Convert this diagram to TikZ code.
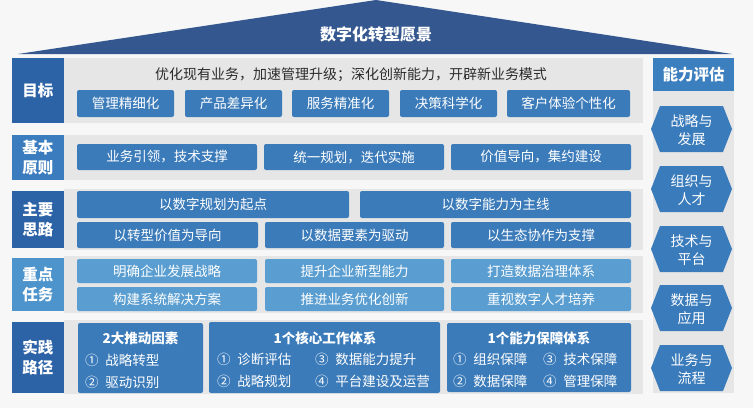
\documentclass[tikz,border=0pt]{standalone}
\usepackage{fontspec}
\setmainfont{Noto Sans CJK SC}
\definecolor{bgc}{HTML}{F7F7F7}
\definecolor{panelc}{HTML}{E6E6E6}
\definecolor{roofc}{HTML}{34578F}
\definecolor{labdark}{HTML}{2C62A6}
\definecolor{labmid}{HTML}{3A7CBE}
\definecolor{lablight}{HTML}{4D94CC}
\definecolor{boxc}{HTML}{3B7BBA}
\definecolor{boxlight}{HTML}{5A9ED1}
\definecolor{headc}{HTML}{3C7FBF}
\definecolor{hexc}{HTML}{3A7BBB}
\definecolor{txtdark}{HTML}{2B2B2B}
\newcommand{\Bx}[7]{\node[#6, minimum width={#4-#2}, minimum height={#5-#3}] (#1) at ({(#2+#4)/2},{(#3+#5)/2}) {#7};}
\newcommand{\Hx}[3]{%
  \fill[hexc] (651,#2) -- (660,#2-23) -- (723,#2-23) -- (732,#2) -- (723,#2+23) -- (660,#2+23) -- cycle;
  \node[hextxt] (#1) at (691.5,#2+1) {#3};}
\begin{document}
\begin{tikzpicture}[x=1pt,y=-1pt,
  base/.style={inner sep=0pt, outer sep=0pt, align=center, text=white},
  panel/.style={base, fill=panelc},
  lab/.style={base, font=\fontsize{15.5}{20}\selectfont\bfseries},
  bluebox/.style={base, fill=boxc, rounded corners=2pt, font=\fontsize{13.5}{16}\selectfont},
  lightbox/.style={bluebox, fill=boxlight},
  ttl/.style={base, font=\fontsize{13.5}{16}\selectfont\bfseries},
  item/.style={base, anchor=west, font=\fontsize{13.5}{16}\selectfont},
  hextxt/.style={base, font=\fontsize{14}{17.5}\selectfont}]
\useasboundingbox (0,0) rectangle (753,408);
\fill[bgc] (0,0) rectangle (753,408);
% roof
\fill[roofc] (18,54) -- (376,0) -- (732,54) -- cycle;
\node[base, font=\fontsize{16}{18}\selectfont\bfseries] (title) at (376,34) {数字化转型愿景};
% gray panels
\Bx{p1}{64}{58}{643}{123}{panel}{}
\Bx{p2}{64}{135}{643}{180}{panel}{}
\Bx{p3}{64}{189}{643}{250}{panel}{}
\Bx{p4}{64}{256}{643}{313}{panel}{}
\Bx{p5}{64}{320}{643}{394}{panel}{}
% labels
\Bx{l1}{12}{58}{64}{123}{lab, fill=labdark}{目标}
\Bx{l2}{12}{135}{64}{180}{lab, fill=labmid}{基本\\原则}
\Bx{l3}{12}{191}{64}{248}{lab, fill=labdark}{主要\\思路}
\Bx{l4}{12}{258}{64}{311}{lab, fill=lablight}{重点\\任务}
\Bx{l5}{12}{322}{64}{393}{lab, fill=labdark}{实践\\路径}
% row 1
\node[base, text=txtdark, font=\fontsize{14}{16}\selectfont] (goal) at (351,75) {优化现有业务，加速管理升级；深化创新能力，开辟新业务模式};
\Bx{g1}{77}{90}{174}{117}{bluebox}{管理精细化}
\Bx{g2}{185}{90}{282}{117}{bluebox}{产品差异化}
\Bx{g3}{292}{90}{389}{117}{bluebox}{服务精准化}
\Bx{g4}{400}{90}{497}{117}{bluebox}{决策科学化}
\Bx{g5}{507}{90}{630}{117}{bluebox}{客户体验个性化}
% row 2
\Bx{b1}{77}{144}{257}{170}{bluebox}{业务引领，技术支撑}
\Bx{b2}{264}{144}{444}{170}{bluebox}{统一规划，迭代实施}
\Bx{b3}{451}{144}{631}{170}{bluebox}{价值导向，集约建设}
% row 3
\Bx{s1}{77}{191}{349}{218}{bluebox}{以数字规划为起点}
\Bx{s2}{360}{191}{631}{218}{bluebox}{以数字能力为主线}
\Bx{s3}{77}{222}{258}{248}{bluebox}{以转型价值为导向}
\Bx{s4}{265}{222}{444}{248}{bluebox}{以数据要素为驱动}
\Bx{s5}{451}{222}{631}{248}{bluebox}{以生态协作为支撑}
% row 4
\Bx{t1}{77}{259}{257}{283}{lightbox}{明确企业发展战略}
\Bx{t2}{265}{259}{444}{283}{lightbox}{提升企业新型能力}
\Bx{t3}{451}{259}{631}{283}{lightbox}{打造数据治理体系}
\Bx{t4}{77}{287}{257}{311}{lightbox}{构建系统解决方案}
\Bx{t5}{265}{287}{444}{311}{lightbox}{推进业务优化创新}
\Bx{t6}{451}{287}{631}{311}{lightbox}{重视数字人才培养}
% row 5
\Bx{r1}{78}{323}{203}{393}{bluebox}{}
\Bx{r2}{209}{322}{440}{393}{bluebox}{}
\Bx{r3}{447}{323}{631}{392}{bluebox}{}
\node[ttl] (r1t) at (140.5,338) {2大推动因素};
\node[item] (r1a) at (85,360) {①\hspace{7pt}战略转型};
\node[item] (r1b) at (85,382) {②\hspace{7pt}驱动识别};
\node[ttl] (r2t) at (325,338) {1个核心工作体系};
\node[item] (r2a) at (217,359) {①\hspace{7pt}诊断评估};
\node[item] (r2b) at (217,381) {②\hspace{7pt}战略规划};
\node[item] (r2c) at (315,359) {③\hspace{7pt}数据能力提升};
\node[item] (r2d) at (315,381) {④\hspace{7pt}平台建设及运营};
\node[ttl] (r3t) at (539,338) {1个能力保障体系};
\node[item] (r3a) at (453,359) {①\hspace{7pt}组织保障};
\node[item] (r3b) at (453,381) {②\hspace{7pt}数据保障};
\node[item] (r3c) at (543,359) {③\hspace{7pt}技术保障};
\node[item] (r3d) at (543,381) {④\hspace{7pt}管理保障};
% right column
\Bx{rp}{653}{91}{734}{393}{panel}{}
\Bx{head}{653}{58}{734}{91}{lab, fill=headc}{能力评估}
\Hx{h1}{129}{战略与\\发展}
\Hx{h2}{189}{组织与\\人才}
\Hx{h3}{249}{技术与\\平台}
\Hx{h4}{308}{数据与\\应用}
\Hx{h5}{368}{业务与\\流程}
\end{tikzpicture}
\end{document}
